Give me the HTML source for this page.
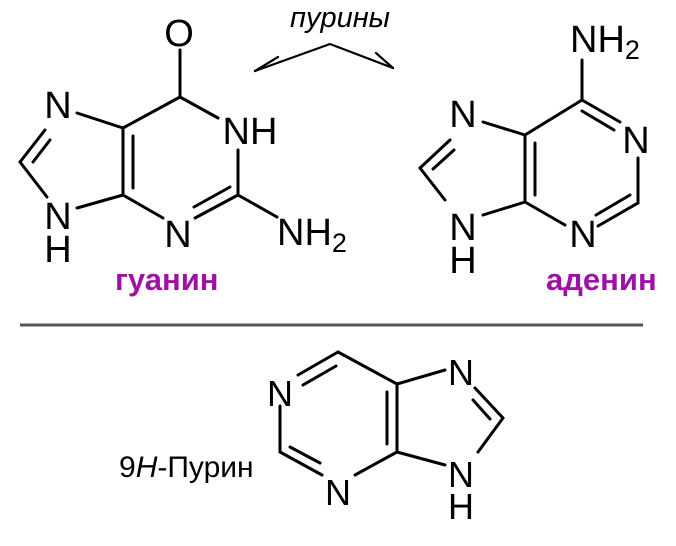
<!DOCTYPE html>
<html><head><meta charset="utf-8"><style>
html,body{margin:0;padding:0;background:#fff;width:676px;height:546px;overflow:hidden}
svg{display:block}
text{font-family:"Liberation Sans",sans-serif;fill:#000}
</style></head><body>
<svg width="676" height="546" viewBox="0 0 676 546">
<g stroke="#000" stroke-width="3" fill="none" stroke-linecap="round">
<!-- guanine -->
<line x1="180" y1="50" x2="180" y2="96"/>
<line x1="180" y1="97" x2="218" y2="118"/>
<line x1="180" y1="97" x2="123" y2="128"/>
<line x1="123" y1="128" x2="123" y2="195"/>
<line x1="133" y1="136" x2="133" y2="188"/>
<line x1="123" y1="195" x2="163" y2="218"/>
<line x1="195" y1="218" x2="238" y2="195"/>
<line x1="194" y1="207" x2="230" y2="187"/>
<line x1="238" y1="195" x2="277" y2="217"/>
<line x1="238" y1="150" x2="238" y2="195"/>
<line x1="123" y1="128" x2="77" y2="113"/>
<line x1="45" y1="130" x2="20" y2="162"/>
<line x1="50" y1="140" x2="33" y2="162"/>
<line x1="20" y1="162" x2="47" y2="197"/>
<line x1="77" y1="208" x2="123" y2="195"/>
<!-- arrow -->
<polyline stroke-width="2.2" points="255,71 330,44 393,68"/>
<line stroke-width="2.2" x1="255" y1="71" x2="278" y2="57"/>
<line stroke-width="2.2" x1="393" y1="68" x2="376" y2="53"/>
<!-- adenine -->
<line x1="582" y1="60" x2="582" y2="100"/>
<line x1="582" y1="100" x2="620" y2="122"/>
<line x1="582" y1="111" x2="614" y2="130"/>
<line x1="638" y1="158" x2="638" y2="203"/>
<line x1="638" y1="203" x2="598" y2="226"/>
<line x1="630" y1="195" x2="596" y2="215"/>
<line x1="565" y1="225" x2="525" y2="202"/>
<line x1="525" y1="202" x2="525" y2="135"/>
<line x1="535" y1="195" x2="535" y2="143"/>
<line x1="525" y1="135" x2="582" y2="100"/>
<line x1="525" y1="135" x2="483" y2="122"/>
<line x1="450" y1="140" x2="420" y2="168"/>
<line x1="454" y1="150" x2="433" y2="169"/>
<line x1="420" y1="168" x2="445" y2="200"/>
<line x1="483" y1="215" x2="525" y2="202"/>
<!-- purine -->
<line x1="298" y1="375" x2="338" y2="352"/>
<line x1="303" y1="385" x2="336" y2="366"/>
<line x1="338" y1="352" x2="397" y2="384"/>
<line x1="397" y1="384" x2="445" y2="370"/>
<line x1="475" y1="388" x2="503" y2="418"/>
<line x1="473" y1="400" x2="490" y2="419"/>
<line x1="503" y1="418" x2="478" y2="452"/>
<line x1="445" y1="465" x2="397" y2="452"/>
<line x1="397" y1="452" x2="397" y2="384"/>
<line x1="387" y1="444" x2="387" y2="392"/>
<line x1="397" y1="452" x2="355" y2="475"/>
<line x1="322" y1="475" x2="280" y2="452"/>
<line x1="320" y1="463" x2="290" y2="447"/>
<line x1="280" y1="452" x2="280" y2="406"/>
</g>
<line x1="20" y1="325" x2="643" y2="325" stroke="#555" stroke-width="3"/>
<g font-size="38" text-anchor="middle">
<text x="179" y="46">O</text>
<text x="250" y="144">NH</text>
<text x="58" y="118">N</text>
<text x="58" y="229">N</text>
<text x="58" y="262">H</text>
<text x="178" y="247">N</text>
<text x="463" y="127">N</text>
<text x="463" y="240">N</text>
<text x="463" y="273">H</text>
<text x="583" y="247">N</text>
<text x="636" y="153">N</text>
<text x="280" y="406" font-size="36">N</text>
<text x="338" y="505" font-size="36">N</text>
<text x="461" y="385" font-size="36">N</text>
<text x="461" y="487" font-size="36">N</text>
<text x="461" y="519" font-size="36">H</text>
</g>
<text x="277" y="245" font-size="38">NH<tspan font-size="27" dy="7">2</tspan></text>
<text x="570" y="52" font-size="38">NH<tspan font-size="27" dy="7">2</tspan></text>
<text x="290" y="27" font-size="29" font-style="italic">пурины</text>
<text x="115" y="290" font-size="31" font-weight="bold" style="fill:#a010a8">гуанин</text>
<text x="546" y="290" font-size="31" font-weight="bold" style="fill:#a010a8">аденин</text>
<text x="119" y="477" font-size="30">9<tspan font-style="italic">H</tspan>-Пурин</text>
</svg>
</body></html>
